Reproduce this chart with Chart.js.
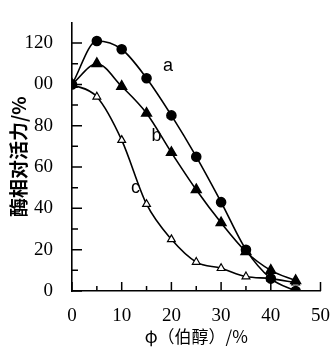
<!DOCTYPE html>
<html>
<head>
<meta charset="utf-8">
<script src="https://cdn.jsdelivr.net/npm/chart.js@4/dist/chart.umd.min.js"></script>
<style>
  body { margin: 0; background: #fff; }
  canvas { display: block; }
</style>
</head>
<body>
<canvas id="chart" width="336" height="351"></canvas>
<script>
// 伯醇体积分数 (%)
const alcohol = [0, 5, 10, 15, 20, 25, 30, 35, 40, 45];

// 酶相对活力 (%)
const curveA = [100, 121, 117, 103, 85, 65, 43, 20, 6, 0];
const curveB = [100, 110, 99, 86, 67, 49, 33, 19, 10, 5];
const curveC = [100, 94, 73, 42, 25, 14, 11, 7, 6, 4];

const curveNames = ['a', 'b', 'c'];
const yTickLabels = ['0', '20', '40', '60', '80', '00', '120'];
const xTickLabels = ['0', '10', '20', '30', '40', '50'];

const ctx = document.querySelector('#chart').getContext('2d');

// inward ticks + a/b/c labels
const innerTicks = {
    id: 'innerTicks',
    afterDraw(chart, args, opts) {
        const { ctx, chartArea, scales: { x, y } } = chart;
        ctx.save();
        ctx.strokeStyle = '#000';
        ctx.lineWidth = 1.5;
        ctx.beginPath();
        x.ticks.forEach(t => {
            const px = x.getPixelForValue(t.value);
            const len = t.value % 10 === 0 ? 9 : 5;
            ctx.moveTo(px, chartArea.bottom);
            ctx.lineTo(px, chartArea.bottom - len);
        });
        y.ticks.forEach(t => {
            if (t.value > 120) return;
            const py = y.getPixelForValue(t.value);
            const len = t.value % 20 === 0 ? 10 : 6;
            ctx.moveTo(chartArea.left, py);
            ctx.lineTo(chartArea.left + len, py);
        });
        ctx.stroke();

        ctx.fillStyle = '#000';
        ctx.font = '18px "Liberation Sans", Arial, sans-serif';
        ctx.textAlign = 'center';
        ctx.textBaseline = 'middle';
        opts.labels.forEach((l, i) => {
            ctx.fillText(curveNames[i], x.getPixelForValue(l[0]), y.getPixelForValue(l[1]));
        });
        ctx.restore();
    }
};

const tickFont = { family: '"Liberation Serif", "Times New Roman", serif', size: 19 };

new Chart(ctx, {
    type: 'line',
    data: {
        labels: alcohol,
        datasets: [
            {
                label: curveNames[0],
                data: curveA,
                borderColor: '#000',
                backgroundColor: '#000',
                borderWidth: 1.6,
                pointStyle: 'circle',
                pointRadius: 4.5,
                cubicInterpolationMode: 'monotone'
            },
            {
                label: curveNames[1],
                data: curveB,
                borderColor: '#000',
                backgroundColor: '#000',
                borderWidth: 1.6,
                pointStyle: 'triangle',
                pointRadius: 5.5,
                cubicInterpolationMode: 'monotone'
            },
            {
                label: curveNames[2],
                data: curveC,
                borderColor: '#000',
                backgroundColor: '#fff',
                borderWidth: 1.6,
                pointBorderWidth: 1.2,
                pointStyle: 'triangle',
                pointRadius: 4.5,
                cubicInterpolationMode: 'monotone'
            }
        ]
    },
    options: {
        responsive: false,
        animation: false,
        layout: { padding: { top: 16, right: 11, left: 0, bottom: 0 } },
        plugins: {
            legend: { display: false },
            tooltip: { enabled: false },
            innerTicks: { labels: [[19.3, 109], [17, 75], [12.8, 50]] }
        },
        scales: {
            x: {
                type: 'linear',
                min: 0,
                max: 50,
                grid: { display: false },
                border: { display: true, color: '#000', width: 1.6 },
                ticks: {
                    stepSize: 5,
                    autoSkip: false,
                    maxRotation: 0,
                    padding: 6,
                    color: '#000',
                    font: tickFont,
                    callback: v => v % 10 === 0 ? xTickLabels[v / 10] : ''
                },
                title: {
                    display: true,
                    text: 'φ（伯醇）/%',
                    color: '#000',
                    font: { family: '"Noto Sans CJK SC", sans-serif', size: 17 },
                    padding: { top: 0, bottom: 4 }
                },
                afterFit: s => { s.height = 60; }
            },
            y: {
                min: 0,
                max: 130,
                grid: { display: false },
                border: { display: true, color: '#000', width: 1.6 },
                ticks: {
                    stepSize: 10,
                    autoSkip: false,
                    padding: 11,
                    color: '#000',
                    font: tickFont,
                    callback: v => (v % 20 === 0 && v <= 120) ? yTickLabels[v / 20] : ''
                },
                title: {
                    display: true,
                    text: '酶相对活力/%',
                    color: '#000',
                    font: { family: '"Noto Sans CJK SC", sans-serif', size: 19, weight: 'bold' },
                    padding: { top: 7, bottom: 0 }
                },
                afterFit: s => { s.width = 72; }
            }
        }
    },
    plugins: [innerTicks]
});
</script>
</body>
</html>
